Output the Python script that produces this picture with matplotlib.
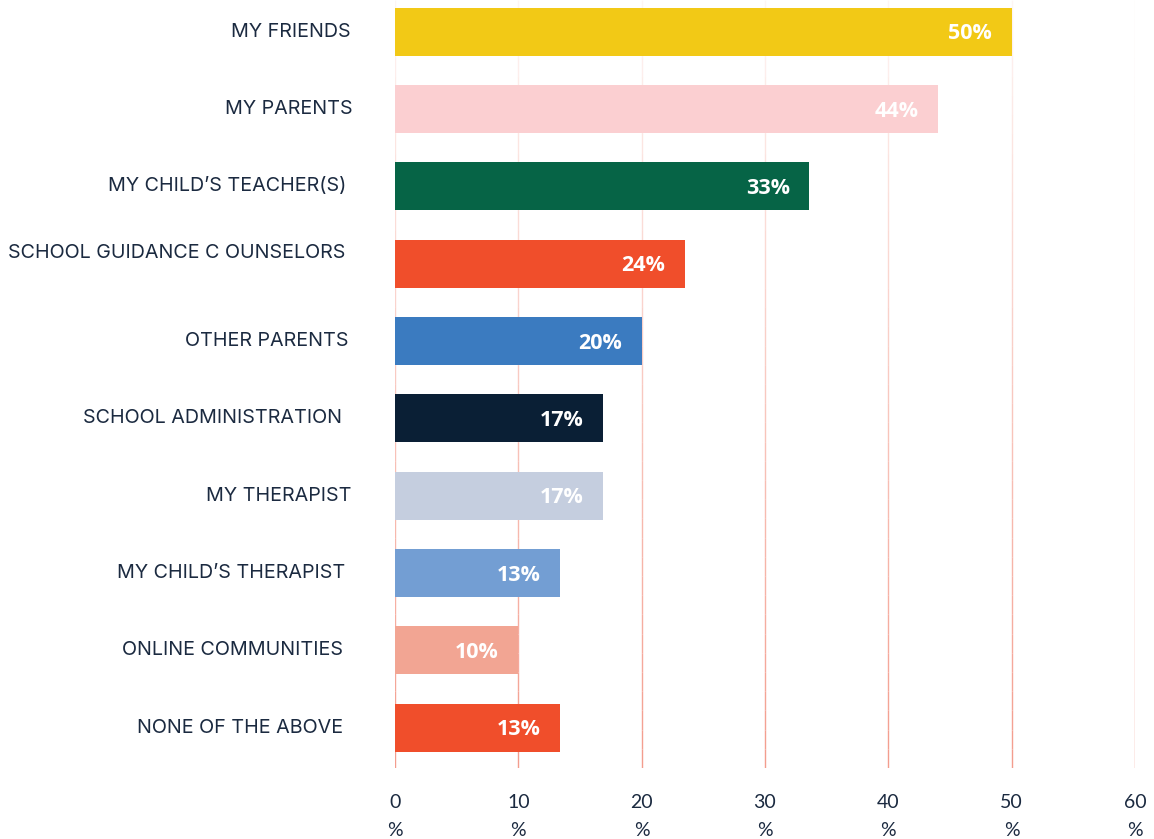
import matplotlib
matplotlib.use("Agg")
import matplotlib.pyplot as plt
import numpy as np
from matplotlib.collections import LineCollection
from matplotlib.transforms import ScaledTranslation

categories = ["MY FRIENDS", "MY PARENTS", "MY CHILD\u2019S TEACHER(S)", "SCHOOL GUIDANCE C OUNSELORS",
              "OTHER PARENTS", "SCHOOL ADMINISTRATION", "MY THERAPIST", "MY CHILD\u2019S THERAPIST",
              "ONLINE COMMUNITIES", "NONE OF THE ABOVE"]
values = [50, 44, 33.6, 23.5, 20, 16.9, 16.9, 13.4, 10, 13.4]
value_labels = ["50%", "44%", "33%", "24%", "20%", "17%", "17%", "13%", "10%", "13%"]
colors = ["#F2C916", "#FBCFD1", "#066446", "#F04E2B", "#3B7BC0",
          "#0A1F35", "#C5CEDF", "#739ED3", "#F2A593", "#F04E2B"]
xticks = [0, 10, 20, 30, 40, 50, 60]
xtick_labels = [f"{t}\n%" for t in xticks]

# small label offsets (pixels: right-shift, up-shift) as seen in the original layout
label_dx = [3, 5, -1, -2, 1, -6, 4, -3, -5, -5]
label_dy = [2, 2, 2, 13, 2, 2, 2, 2, 2, 2]

navy = "#1B2A40"
fig = plt.figure(figsize=(11.54, 8.39), dpi=100)
ax = fig.add_axes([395/1154, 1-768/839, (1135-395)/1154, 768/839])

y = np.arange(len(categories))
ax.barh(y, values, height=0.62, color=colors, zorder=3)

ax.set_xlim(0, 60)
ax.set_ylim(len(categories) - 1 + 0.52, -0.41)

# faded vertical gridlines
ylo, yhi = ax.get_ylim()
n = 40
edges = np.linspace(yhi, ylo, n + 1)
for t in xticks:
    segs = [[(t, edges[i]), (t, edges[i + 1])] for i in range(n)]
    alphas = np.linspace(0.08, 0.85, n)
    cols = [(0.95, 0.55, 0.48, a) for a in alphas]
    ax.add_collection(LineCollection(segs, colors=cols, linewidths=1.0, zorder=1))

for yi, v, lab in zip(y, values, value_labels):
    ax.annotate(lab, (v, yi), xytext=(-14, -1.5), textcoords="offset points",
                ha="right", va="center", color="white", fontsize=15.5,
                fontweight="bold", family="Open Sans", zorder=4)

ax.set_yticks(y)
ax.set_yticklabels(categories, family="Inter", fontsize=14.2, color=navy)
ax.set_xticks(xticks)
ax.set_xticklabels(xtick_labels, family="Lato", fontsize=14, color=navy, linespacing=1.75)
ax.tick_params(axis="y", length=0, pad=34)
ax.tick_params(axis="x", length=0, pad=19)
for s in ax.spines.values():
    s.set_visible(False)

for lbl, dx, dy in zip(ax.get_yticklabels(), label_dx, label_dy):
    lbl.set_transform(lbl.get_transform() + ScaledTranslation(dx / 100, dy / 100, fig.dpi_scale_trans))

fig.savefig("out.png", dpi=100, facecolor="white")
